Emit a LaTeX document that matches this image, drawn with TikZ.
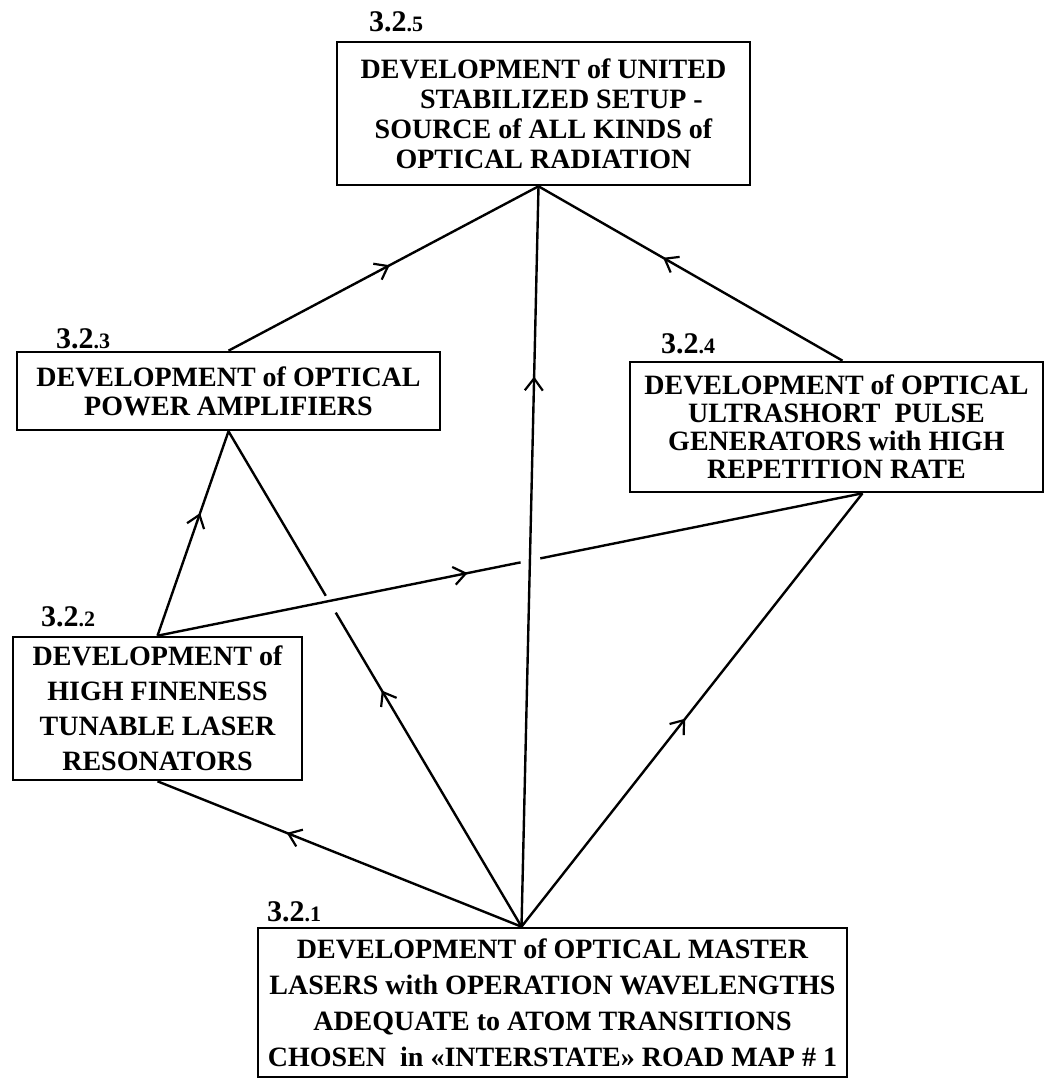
\documentclass[tikz,border=0pt]{standalone}
\usepackage{fontspec}
\setmainfont{Liberation Serif}
\usepackage{tikz}
\usetikzlibrary{arrows.meta,decorations.markings,calc}

\newcommand{\secno}[2]{{\fontsize{15}{15}\selectfont #1}{\fontsize{11}{11}\selectfont .#2}}

\begin{document}
\begin{tikzpicture}[x=0.5pt,y=-0.5pt,
	stage/.style={draw,line width=1.3pt,inner sep=0pt,align=center,font=\bfseries\fontsize{14}{#1}\selectfont},
	num/.style={anchor=base west,inner sep=0pt,font=\bfseries},
	link/.style={line width=1.2pt},
	mid/.style={postaction={decorate},decoration={markings,mark=at position #1 with {\arrow{Straight Barb[length=6pt,width=9pt,line width=1.1pt]}}}}]
\useasboundingbox (0,0) rectangle (1045,1080);
% boxes
\node [stage=15,minimum width=206.5pt,minimum height=71.5pt] (s5) at (543.5,113.5)
	{DEVELOPMENT of UNITED\\ \hspace*{18pt}STABILIZED SETUP -\\ SOURCE of ALL KINDS of\\ OPTICAL RADIATION};
\node [stage=14.5,minimum width=211.5pt,minimum height=39pt] (s3) at (228.5,391)
	{DEVELOPMENT of OPTICAL\\ POWER AMPLIFIERS};
\node [stage=14,minimum width=206.5pt,minimum height=65pt] (s4) at (836.5,427)
	{DEVELOPMENT of OPTICAL\\ ULTRASHORT~ PULSE\\ GENERATORS with HIGH\\ REPETITION RATE};
\node [stage=17.5,minimum width=144.5pt,minimum height=71.5pt] (s2) at (157.5,708.5)
	{DEVELOPMENT of\\ HIGH FINENESS\\ TUNABLE LASER\\ RESONATORS};
\node [stage=18,minimum width=294.5pt,minimum height=74.5pt] (s1) at (552.5,1002.5)
	{DEVELOPMENT of OPTICAL MASTER\\ LASERS with OPERATION WAVELENGTHS\\ ADEQUATE to ATOM TRANSITIONS\\ CHOSEN~ in «INTERSTATE» ROAD MAP \# 1};
% numbers
\node [num] (t5) at ($(s5.north west)+(33,-9)$) {\secno{3.2}{5}};
\node [num] (t3) at ($(s3.north west)+(40,-2)$) {\secno{3.2}{3}};
\node [num] (t4) at ($(s4.north west)+(32,-7)$) {\secno{3.2}{4}};
\node [num] (t2) at ($(s2.north west)+(29,-9)$) {\secno{3.2}{2}};
\node [num] (t1) at ($(s1.north west)+(10,-5)$) {\secno{3.2}{1}};
% connectors
\coordinate (p5) at ($(s5.south)+(-5,0)$);
\coordinate (p1) at ($(s1.north)+(-31,0)$);
\coordinate (p4t) at ($(s4.north)+(6,0)$);
\coordinate (p4b) at ($(s4.south)+(26,0)$);
\draw [link,mid=0.59] (p4t) -- (p5);
\draw [link,mid=0.52] (s3.north) -- (p5);
\draw [link,mid=0.6] (s2.north) -- (s3.south);
\draw [link,mid=0.645] (p1) -- (s2.south);
\draw [link,mid=0.48] (p1) -- (p4b);
\draw [link,mid=0.743] (p1) -- (p5);
\draw [link,mid=0.854] (s2.north) -- ($(s2.north)!0.515!(p4b)$);
\draw [link] ($(s2.north)!0.543!(p4b)$) -- (p4b);
\draw [link,mid=0.752] (p1) -- ($(p1)!0.634!(s3.south)$);
\draw [link] ($(p1)!0.668!(s3.south)$) -- (s3.south);
\end{tikzpicture}
\end{document}
